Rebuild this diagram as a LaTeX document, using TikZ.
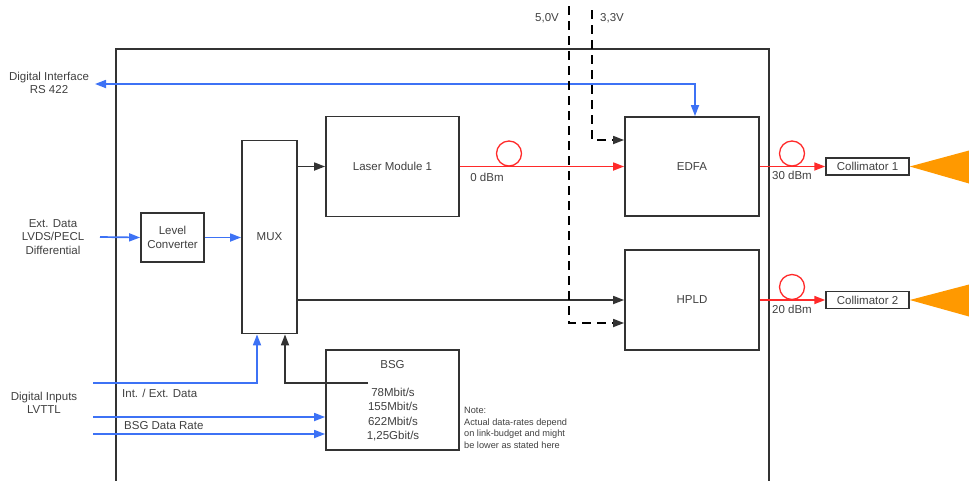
\documentclass[tikz,border=0pt]{standalone}
\usepackage{fontspec}
\setmainfont{Liberation Sans}
\usetikzlibrary{arrows.meta,calc}
\definecolor{txt}{HTML}{404040}
\definecolor{ln}{HTML}{333333}
\definecolor{bl}{HTML}{3D72F5}
\definecolor{rd}{HTML}{FF2A2A}
\definecolor{og}{HTML}{FF9900}
\begin{document}
\begin{tikzpicture}[x=1pt,y=-1pt,
  box/.style={draw=ln,line width=1.8pt,fill=white,text=txt,font=\fontsize{11.5}{13.5}\selectfont,inner sep=0pt,align=center},
  lbl/.style={text=txt,font=\fontsize{11.5}{13.5}\selectfont,inner sep=0pt,align=center},
  small/.style={text=txt,font=\fontsize{9.2}{11.5}\selectfont,inner sep=0pt,align=left},
  tip/.style={-{Triangle[length=11pt,width=8pt]}},
  blk/.style={draw=ln,line width=1.7pt},
  blu/.style={draw=bl,line width=1.7pt},
  red/.style={draw=rd,line width=1.7pt},
  dsh/.style={draw=black,line width=1.6pt,dash pattern=on 9pt off 6pt},
  fiber/.style={draw=rd,line width=1.3pt}]
\useasboundingbox (0,0) rectangle (969,480);
% outer housing
\draw[draw=ln,line width=1.8pt] (116,481) -- (116,49) -- (769,49) -- (769,481);
% boxes
\node[box,minimum width=63pt,minimum height=49pt] (lc) at (172.5,237.5) {Level\\Converter};
\node[box,minimum width=55pt,minimum height=193pt] (mux) at (269.5,237) {MUX};
\node[box,minimum width=133pt,minimum height=100pt] (laser) at (392.5,166.5) {Laser Module 1};
\node[box,minimum width=134pt,minimum height=99pt] (edfa) at (692,166.5) {EDFA};
\node[box,minimum width=134pt,minimum height=100pt] (hpld) at (692,300) {HPLD};
\node[box,minimum width=133pt,minimum height=100pt] (bsg) at (392.5,400) {};
\node[lbl] (bsgt) at (392.5,365) {BSG};
\node[lbl,font=\fontsize{11.5}{14.2}\selectfont] (rates) at (393,414.5) {78Mbit/s\\155Mbit/s\\622Mbit/s\\1,25Gbit/s};
\node[box,minimum width=83pt,minimum height=17pt,line width=1.5pt] (c1) at (867.5,166.5) {Collimator 1};
\node[box,minimum width=83pt,minimum height=17pt,line width=1.5pt] (c2) at (867.5,300) {Collimator 2};
% orange beams
\fill[og] (c1.east) -- (969,150.5) -- (969,183.5) -- cycle;
\fill[og] (c2.east) -- (969,284.5) -- (969,316.5) -- cycle;
% external labels
\node[lbl] (dil) at (49,83) {Digital Interface\\RS 422};
\node[lbl] (edl) at (53,237) {Ext. Data\\LVDS/PECL\\Differential};
\node[lbl] (dinl) at (44,403) {Digital Inputs\\LVTTL};
\node[lbl,anchor=west] (iel) at (122,393) {Int. / Ext. Data};
\node[lbl,anchor=west] (brl) at (124,425.5) {BSG Data Rate};
\node[small,anchor=west] (note) at (464,428) {Note:\\Actual data-rates depend\\on link-budget and might\\be lower as stated here};
\node[lbl] (v5) at (547,18) {5,0V};
\node[lbl] (v3) at (612,18) {3,3V};
\node[lbl] (p0) at (487,177.5) {0 dBm};
\node[lbl] (p30) at (792,175.5) {30 dBm};
\node[lbl] (p20) at (792,309) {20 dBm};
% coordinates
\coordinate (diA) at (95,84);
\coordinate (extA) at (100,237);
\coordinate (ieA) at (93,383);
\coordinate (br1) at (93,417);
\coordinate (br2) at (93,434);
\coordinate (bsgO) at (368,383);
\coordinate (v5t) at (569,6);
\coordinate (v3t) at (592,10);
% blue signals
\draw[blu,{Triangle[length=11pt,width=8pt]}-{Triangle[length=11pt,width=8pt]}] (diA) -| ($(edfa.north)+(3,0)$);
\draw[blu,tip] (extA) -- (lc.west);
\draw[blu,tip] (lc.east) -- (mux.west |- lc.east);
\draw[blu,tip] (ieA) -| ($(mux.south)+(-12.5,0)$);
\draw[blu,tip] (br1) -- (bsg.west |- br1);
\draw[blu,tip] (br2) -- (bsg.west |- br2);
% black signals
\draw[blk,tip] (bsgO) -| ($(mux.south)+(15.5,0)$);
\draw[blk,tip] (mux.east |- laser.west) -- (laser.west);
\draw[blk,tip] (mux.east |- hpld.west) -- (hpld.west);
% power supplies
\draw[dsh] (v5t) |- ($(hpld.west)+(-10,23)$);
\draw[blk,tip] ($(hpld.west)+(-10,23)$) -- ($(hpld.west)+(0,23)$);
\draw[dsh] (v3t) |- ($(edfa.west)+(-10,-26.5)$);
\draw[blk,tip] ($(edfa.west)+(-10,-26.5)$) -- ($(edfa.west)+(0,-26.5)$);
% optical paths
\draw[red,-{Triangle[length=11pt,width=8pt]},fill=rd] (laser.east) -- (edfa.west);
\draw[fiber] (509,153.5) circle (12.5);
\draw[red,-{Triangle[length=11pt,width=8pt]},fill=rd] (edfa.east) -- (c1.west);
\draw[fiber] (792,153.5) circle (12.5);
\draw[red,-{Triangle[length=11pt,width=8pt]},fill=rd] (hpld.east) -- (c2.west);
\draw[fiber] (792,287) circle (12.5);
\end{tikzpicture}
\end{document}
